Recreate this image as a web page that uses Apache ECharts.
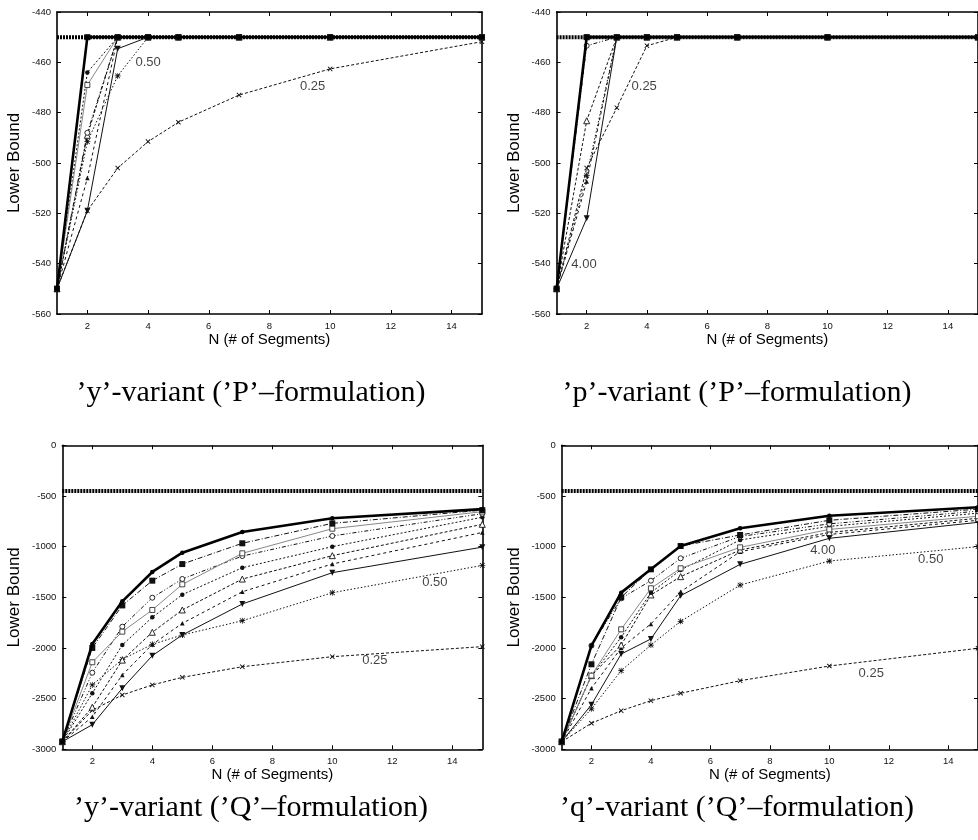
<!DOCTYPE html>
<html>
<head>
<meta charset="utf-8">
<script src="https://cdn.jsdelivr.net/npm/echarts@6/dist/echarts.min.js"></script>
<style>
  html, body { margin: 0; padding: 0; background: #fff; }
  #chart { width: 978px; height: 840px; }
</style>
</head>
<body>
<div id="chart"></div>
<script>
// Number of segments at which each bound was computed
const segments = [1, 2, 3, 4, 5, 7, 10, 15];
const xTicks = [2, 4, 6, 8, 10, 12, 14];
const optimum = -450;

// 'y'-variant, 'P'-formulation
const yP_best      = [-550, -450, -450, -450, -450, -450, -450, -450];
const yP_fSquare   = [-550, -450, -450, -450, -450, -450, -450, -450];
const yP_oSquare   = [-550, -469, -450, -450, -450, -450, -450, -450];
const yP_oCircle   = [-550, -488, -450, -450, -450, -450, -450, -450];
const yP_fCircle   = [-550, -464, -450, -450, -450, -450, -450, -450];
const yP_oTriangle = [-550, -489, -450, -450, -450, -450, -450, -450];
const yP_sTriangle = [-550, -506, -450, -450, -450, -450, -450, -450];
const yP_dTriangle = [-550, -519, -454.6, -450, -450, -450, -450, -450];
const yP_star      = [-550, -491.5, -465.4, -450, -450, -450, -450, -450];
const yP_cross     = [-550, -519, -502, -491.5, -483.8, -473, -462.6, -451.8];

// 'p'-variant, 'P'-formulation
const pP_best      = [-550, -450, -450, -450, -450, -450, -450, -450];
const pP_fSquare   = [-550, -450, -450, -450, -450, -450, -450, -450];
const pP_oSquare   = [-550, -450, -450, -450, -450, -450, -450, -450];
const pP_oCircle   = [-550, -453.4, -450, -450, -450, -450, -450, -450];
const pP_fCircle   = [-550, -450, -450, -450, -450, -450, -450, -450];
const pP_oTriangle = [-550, -483.2, -450, -450, -450, -450, -450, -450];
const pP_sTriangle = [-550, -507.4, -450, -450, -450, -450, -450, -450];
const pP_dTriangle = [-550, -522, -450, -450, -450, -450, -450, -450];
const pP_star      = [-550, -505, -450, -450, -450, -450, -450, -450];
const pP_cross     = [-550, -502, -478, -453.4, -450, -450, -450, -450];

// 'y'-variant, 'Q'-formulation
const yQ_best      = [-2925, -1960, -1540, -1250, -1060, -855, -720, -630];
const yQ_fSquare   = [-2925, -2000, -1580, -1336, -1172, -967, -770, -640];
const yQ_oSquare   = [-2925, -2141, -1839, -1625, -1372, -1066, -823, -655];
const yQ_oCircle   = [-2925, -2244, -1790, -1504, -1319, -1093, -895, -675];
const yQ_fCircle   = [-2925, -2447, -1970, -1698, -1474, -1208, -1000, -710];
const yQ_oTriangle = [-2925, -2585, -2120, -1845, -1625, -1320, -1089, -780];
const yQ_sTriangle = [-2925, -2680, -2267, -1965, -1757, -1445, -1171, -860];
const yQ_dTriangle = [-2925, -2757, -2398, -2076, -1872, -1566, -1257, -1005];
const yQ_star      = [-2925, -2365, -2112, -1964, -1872, -1731, -1455, -1185];
const yQ_cross     = [-2925, -2615, -2464, -2365, -2290, -2185, -2086, -1987];

// 'q'-variant, 'Q'-formulation
const qQ_best      = [-2925, -1977, -1454, -1224, -994, -819, -695, -612];
const qQ_fSquare   = [-2925, -2161, -1500, -1224, -994, -885, -740, -630];
const qQ_oSquare   = [-2925, -2273, -1816, -1411, -1214, -1007, -830, -700];
const qQ_oCircle   = [-2925, -1977, -1510, -1336, -1115, -900, -775, -650];
const qQ_fCircle   = [-2925, -2273, -1895, -1454, -1230, -934, -800, -670];
const qQ_oTriangle = [-2925, -2273, -1971, -1477, -1296, -1033, -860, -720];
const qQ_sTriangle = [-2925, -2398, -2000, -1763, -1445, -1050, -880, -740];
const qQ_dTriangle = [-2925, -2560, -2060, -1911, -1484, -1175, -918, -760];
const qQ_star      = [-2925, -2600, -2224, -1971, -1737, -1379, -1142, -1000];
const qQ_cross     = [-2925, -2743, -2619, -2520, -2447, -2323, -2178, -2003];

// Panel captions and inline curve labels ([segments, bound, text])
const captions = [
  '\u2019y\u2019-variant (\u2019P\u2019\u2013formulation)',
  '\u2019p\u2019-variant (\u2019P\u2019\u2013formulation)',
  '\u2019y\u2019-variant (\u2019Q\u2019\u2013formulation)',
  '\u2019q\u2019-variant (\u2019Q\u2019\u2013formulation)'
];
const yP_notes = [[4.0, -459.9, '0.50'], [9.42, -469.4, '0.25']];
const pP_notes = [[3.91, -469.7, '0.25'], [1.91, -540.2, '4.00']];
const yQ_notes = [[13.42, -1356, '0.50'], [11.42, -2119, '0.25']];
const qQ_notes = [[9.78, -1040, '4.00'], [13.41, -1125, '0.50'], [11.41, -2250, '0.25']];

// ---------- styling ----------
const SANS = 'Liberation Sans, Arial, sans-serif';
const SERIF = 'Liberation Serif, Times New Roman, serif';

const CROSS = 'path://M0,1.3L1.3,0L5,3.7L8.7,0L10,1.3L6.3,5L10,8.7L8.7,10L5,6.3L1.3,10L0,8.7L3.7,5Z';
const STAR = 'path://M4.4,0H5.6V4.4H10V5.6H5.6V10H4.4V5.6H0V4.4H4.4Z' +
             'M0.6,1.5L1.5,0.6L5,4.1L8.5,0.6L9.4,1.5L5.9,5L9.4,8.5L8.5,9.4L5,5.9L1.5,9.4L0.6,8.5L4.1,5Z';

// open markers are drawn as white-filled shapes with a thin outline
const styles = {
  best:      { symbol: 'circle', size: 4.5, dash: 'solid', width: 2.6, color: '#000' },
  fSquare:   { symbol: 'rect', size: 6, dash: [5, 2, 1, 2], width: 1, color: '#111' },
  oSquare:   { symbol: 'rect', open: true, size: 5, dash: 'solid', width: 1, color: '#888', mark: '#333' },
  oCircle:   { symbol: 'circle', open: true, size: 5, dash: [4, 2, 1, 2, 1, 2], width: 1, color: '#111' },
  fCircle:   { symbol: 'circle', size: 4.5, dash: [2, 2], width: 1, color: '#111' },
  oTriangle: { symbol: 'triangle', open: true, size: 6, dash: [3, 2], width: 1, color: '#111' },
  sTriangle: { symbol: 'triangle', size: 4.5, dash: [3, 3], width: 1, color: '#111' },
  dTriangle: { symbol: 'triangle', rotate: 180, size: 6, dash: 'solid', width: 1, color: '#111' },
  star:      { symbol: STAR, size: 6, dash: [1.5, 2], width: 1, color: '#111' },
  cross:     { symbol: CROSS, size: 5, dash: [3, 2], width: 1, color: '#111' }
};
const order = ['cross', 'star', 'dTriangle', 'sTriangle', 'oTriangle', 'fCircle', 'oCircle', 'oSquare', 'fSquare', 'best'];

const panels = [
  { data: { best: yP_best, fSquare: yP_fSquare, oSquare: yP_oSquare, oCircle: yP_oCircle, fCircle: yP_fCircle,
            oTriangle: yP_oTriangle, sTriangle: yP_sTriangle, dTriangle: yP_dTriangle, star: yP_star, cross: yP_cross },
    notes: yP_notes, min: -560, max: -440, step: 20, left: 57, top: 12, width: 424.9, height: 302, gap: 34, cx: 251, cy: 393 },
  { data: { best: pP_best, fSquare: pP_fSquare, oSquare: pP_oSquare, oCircle: pP_oCircle, fCircle: pP_fCircle,
            oTriangle: pP_oTriangle, sTriangle: pP_sTriangle, dTriangle: pP_dTriangle, star: pP_star, cross: pP_cross },
    notes: pP_notes, min: -560, max: -440, step: 20, left: 556.6, top: 12, width: 424.9, height: 302, gap: 34, cx: 737, cy: 393 },
  { data: { best: yQ_best, fSquare: yQ_fSquare, oSquare: yQ_oSquare, oCircle: yQ_oCircle, fCircle: yQ_fCircle,
            oTriangle: yQ_oTriangle, sTriangle: yQ_sTriangle, dTriangle: yQ_dTriangle, star: yQ_star, cross: yQ_cross },
    notes: yQ_notes, min: -3000, max: 0, step: 500, left: 62.3, top: 445.3, width: 420, height: 304, gap: 39, cx: 251, cy: 808 },
  { data: { best: qQ_best, fSquare: qQ_fSquare, oSquare: qQ_oSquare, oCircle: qQ_oCircle, fCircle: qQ_fCircle,
            oTriangle: qQ_oTriangle, sTriangle: qQ_sTriangle, dTriangle: qQ_dTriangle, star: qQ_star, cross: qQ_cross },
    notes: qQ_notes, min: -3000, max: 0, step: 500, left: 561.7, top: 445.3, width: 420, height: 304, gap: 39, cx: 737, cy: 808 }
];

const grid = [], xAxis = [], yAxis = [], series = [], graphic = [];
const tickStyle = { inside: true, length: 4, lineStyle: { color: '#000', width: 1 } };
const lineStyle = { lineStyle: { color: '#000', width: 1.6 } };
const plain = v => String(v);

panels.forEach((p, i) => {
  grid.push({ left: p.left, top: p.top, width: p.width, height: p.height, containLabel: false });

  // bottom / left axes with labels
  xAxis.push({
    type: 'value', gridIndex: i, min: 1, max: 15, position: 'bottom',
    axisLine: { show: true, onZero: false, ...lineStyle },
    axisTick: { ...tickStyle, customValues: xTicks },
    axisLabel: { customValues: xTicks, fontSize: 9.5, color: '#111', fontFamily: SANS, margin: 7, formatter: plain },
    splitLine: { show: false },
    name: 'N (# of Segments)', nameLocation: 'middle', nameGap: 17,
    nameTextStyle: { fontSize: 15, color: '#000', fontFamily: SANS }
  });
  yAxis.push({
    type: 'value', gridIndex: i, min: p.min, max: p.max, interval: p.step, position: 'left',
    axisLine: { show: true, onZero: false, ...lineStyle },
    axisTick: { ...tickStyle },
    axisLabel: { fontSize: 9.5, color: '#111', fontFamily: SANS, margin: 6, formatter: plain },
    splitLine: { show: false },
    name: 'Lower Bound', nameLocation: 'middle', nameGap: p.gap,
    nameTextStyle: { fontSize: 17, color: '#000', fontFamily: SANS }
  });
  // mirrored top / right axes (ticks only)
  xAxis.push({
    type: 'value', gridIndex: i, min: 1, max: 15, position: 'top',
    axisLine: { show: true, onZero: false, ...lineStyle },
    axisTick: { ...tickStyle, customValues: xTicks },
    axisLabel: { show: false }, splitLine: { show: false }
  });
  yAxis.push({
    type: 'value', gridIndex: i, min: p.min, max: p.max, interval: p.step, position: 'right',
    axisLine: { show: true, onZero: false, ...lineStyle },
    axisTick: { ...tickStyle }, axisLabel: { show: false }, splitLine: { show: false }
  });

  const xi = i * 2, yi = i * 2;

  // optimal objective value
  series.push({
    type: 'line', name: 'optimum', xAxisIndex: xi, yAxisIndex: yi,
    data: [[1, optimum], [15, optimum]], symbol: 'none', silent: true,
    lineStyle: { color: '#000', width: 4, type: [2, 1] }, z: 1
  });

  order.forEach(key => {
    const s = styles[key];
    const vals = p.data[key];
    const markColor = s.mark || s.color;
    series.push({
      type: 'line', name: key, xAxisIndex: xi, yAxisIndex: yi,
      data: segments.map((n, k) => [n, vals[k]]),
      symbol: s.symbol, symbolSize: s.size, symbolRotate: s.rotate || 0,
      itemStyle: s.open
        ? { color: '#fff', borderColor: markColor, borderWidth: 0.9 }
        : { color: markColor, borderWidth: 0 },
      lineStyle: { color: s.color, width: s.width, type: s.dash },
      z: key === 'best' ? 4 : 3, silent: true, animation: false
    });
  });

  // inline parameter labels
  series.push({
    type: 'scatter', xAxisIndex: xi, yAxisIndex: yi, symbolSize: 0, silent: true,
    data: p.notes.map(n => ({ value: [n[0], n[1]], label: { formatter: n[2] } })),
    label: { show: true, position: 'inside', fontSize: 13, color: '#111', fontFamily: SANS },
    z: 5
  });

  graphic.push({
    type: 'text', x: p.cx, y: p.cy,
    style: { text: captions[i], font: '30px ' + SERIF, fill: '#000', align: 'center', verticalAlign: 'middle' }
  });
});

const chart = echarts.init(document.getElementById('chart'), null, { renderer: 'canvas' });
chart.setOption({
  animation: false,
  backgroundColor: '#fff',
  grid, xAxis, yAxis, series, graphic
});
</script>
</body>
</html>
